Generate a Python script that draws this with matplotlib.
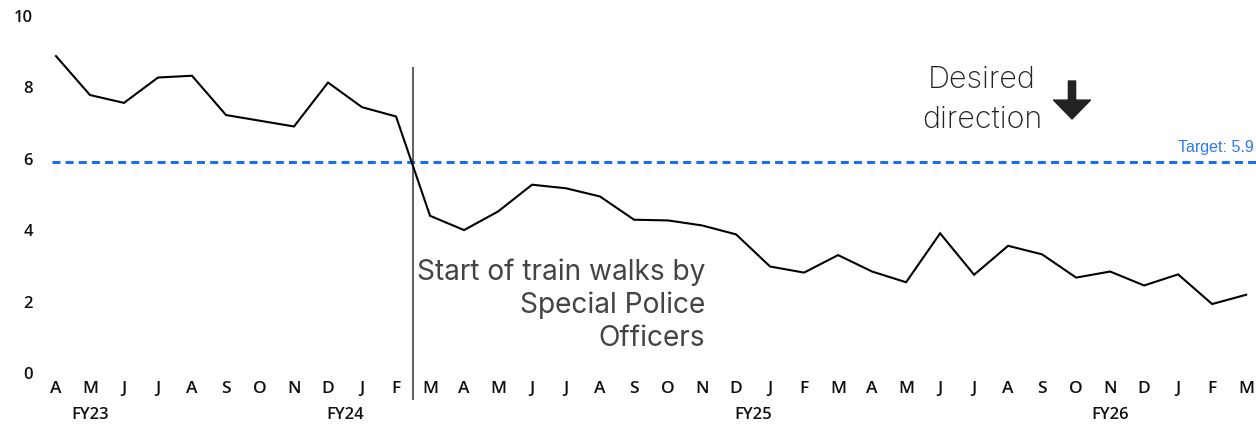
import matplotlib
matplotlib.use("Agg")
import matplotlib.pyplot as plt

months = ["A", "M", "J", "J", "A", "S", "O", "N", "D", "J", "F",
          "M", "A", "M", "J", "J", "A", "S", "O", "N", "D", "J", "F",
          "M", "A", "M", "J", "J", "A", "S", "O", "N", "D", "J", "F", "M"]
values = [8.87, 7.78, 7.56, 8.27, 8.32, 7.22, 7.06, 6.90, 8.13, 7.44, 7.18,
          4.40, 4.00, 4.52, 5.27, 5.17, 4.94, 4.29, 4.27, 4.13, 3.88, 2.98, 2.81,
          3.30, 2.84, 2.54, 3.91, 2.75, 3.56, 3.32, 2.67, 2.84, 2.45, 2.76, 1.93, 2.19]
fy_labels = ["FY23", "FY24", "FY25", "FY26"]
fy_positions = [1.0, 8.5, 20.5, 31.0]
target = 5.9
yticks = [0, 2, 4, 6, 8, 10]
event_x = 10.5
event_text = "Start of train walks by\nSpecial Police\nOfficers"

W, H = 1256, 428
fig = plt.figure(figsize=(W / 100, H / 100), dpi=100)
# axes: left 40px, right 1256px, top 10px, bottom 380px
ax = fig.add_axes([40 / W, 1 - 380 / H, (W - 40) / W, (380 - 10) / H])

x = list(range(len(values)))
ax.plot(x, values, color="black", lw=1.5, solid_joinstyle="miter", zorder=3)

ax.set_xlim(-0.47, 35.29)
ax.set_ylim(-0.196, 10.16)

ax.hlines(target, -0.12, 35.29, colors="#1a6ef2", lw=2.2,
          linestyles=(0, (2.6, 1.7)), zorder=2)
ax.vlines(event_x, -0.76, 8.56, colors="#333333", lw=1.1, clip_on=False, zorder=2)

for s in ax.spines.values():
    s.set_visible(False)

tick_font = dict(fontfamily="Open Sans", fontweight="semibold", color="#111111")
ax.set_yticks(yticks)
ax.set_yticklabels([str(v) for v in yticks], fontsize=12, **tick_font)
ax.set_xticks(x)
ax.set_xticklabels(months, fontsize=12.5, **tick_font)
ax.tick_params(axis="both", length=0)
ax.tick_params(axis="y", pad=5)
ax.tick_params(axis="x", pad=1)

trans = ax.get_xaxis_transform()
for lab, pos in zip(fy_labels, fy_positions):
    ax.text(pos, -0.095, lab, transform=trans, ha="center", va="center",
            fontsize=12, **tick_font)

fig.text(705 / W, 1 - 305 / H, event_text, ha="right", va="center",
         multialignment="right", fontfamily="Inter", fontsize=20.2,
         color="#444444", linespacing=1.28)

fig.text(982 / W, 1 - 99.5 / H, "Desired\ndirection", ha="center", va="center",
         multialignment="center", fontfamily="Inter", fontweight="light",
         fontsize=22, color="#222222", linespacing=1.52)

ax.annotate("", xy=(1072, H - 119), xytext=(1072, H - 81),
            xycoords="figure pixels", textcoords="figure pixels",
            arrowprops=dict(arrowstyle="simple,head_length=0.68,head_width=1.33,tail_width=0.26",
                            mutation_scale=20, color="#222222", shrinkA=0, shrinkB=0))

fig.text(1254 / W, 1 - 148 / H, "Target: 5.9", ha="right", va="center",
         fontfamily="Liberation Sans", fontsize=11.5, color="#2a7af5")

fig.savefig("out.png", dpi=100, facecolor="white")
